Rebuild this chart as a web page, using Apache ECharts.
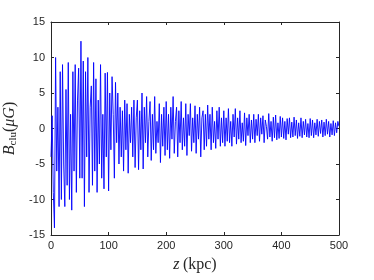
<!DOCTYPE html>
<html><head><meta charset="utf-8">
<script src="https://cdn.jsdelivr.net/npm/echarts@6/dist/echarts.min.js"></script>
<style>html,body{margin:0;padding:0;background:#fff}#c{width:374px;height:280px}</style>
</head><body><div id="c"></div>
<script>
const zStart = 0, zStep = 2;
const xTicks = [0, 100, 200, 300, 400, 500];
const yTicks = [-15, -10, -5, 0, 5, 10, 15];
const bSeg0 = [-4, 1.8, -9, -14, 10, -6, 3, -11, 8, -10, 9, -5, -11, 5.5, -8, 9.3, -10, 2, -11.5, 8, -6, 9, -9, 4, 8.5];
const bSeg1 = [-7, 12.3, -7, 9.5, -11, 8, -4, 10, -9, 3, 6, -8, 9.3, -6, 7, -9, 4, -5, 9, -7, 2, -8.5, 7.8, -4, 7.9];
const bSeg2 = [-8.8, 5, -3, 7.3, 2, -7, 6.5, -2, 5, -5, 3, -4, 2.5, -6, 4, -3, 3.5, -6.3, 2, -2, 3, -4, 4, -5.5, 1.5];
const bSeg3 = [4, -5.8, 2.5, -3, 5, -5.7, 3, -2, 4.5, -4, 1, 3.8, -4.5, 2, -3, 4.5, -3.5, 1, -2, 3.5, -4.8, 2, -2.5, 3, -3.8];
const bSeg4 = [3.8, -3, 2, -4.2, 3, -1.5, 4.5, -3.5, 1, 3, -4, 2.5, -2, 3.8, -3, 1.5, -2.5, 3.5, -3.8, 2, -1, 3.5, -3.2, 1.5, -2];
const bSeg5 = [3.2, -3.5, 2, -1.5, 3, -4, 1.5, 2.5, -3, 2, -2.5, 3.3, -1.5, 2, -3, 3, -2, 1, -2.8, 2.5, -1.5, 3, -2.5, 1.5, -2];
const bSeg6 = [2.5, -2.5, 1.5, -1.8, 2.8, -2, 1, -2.5, 2, -1.2, 2.8, -2.2, 1.5, -1.5, 2.5, -2, 0.8, -1.8, 2.2, -2.4, 1.5, -1, 2, -2, 1.2];
const bSeg7 = [-1.5, 2, -2, 1.3, -1, 2, -1.8, 1.5, -0.8, 1.8, -2, 1.2, 0.3, -1.5, 2.1, -1.2, 1, -1.8, 1.6, -1.3, 1.9, -1.6, 0.8, -1.4, 1.7];
const bSeg8 = [-1.2, 1.5, -1.4, 1, -1.6, 1.4, -0.8, 1.5, -1.3, 0.9, -1.2, 1.6, -1, 1.2, -1.4, 0.8, -1.1, 1.5, -1.3, 1, -0.9, 1.3, -1.2, 0.7, -1.3];
const bSeg9 = [1.4, -1, 1.2, -1.3, 0.8, -0.9, 1.3, -1.1, 1, -0.7, 1.2, -1.2, 0.9, -1, 1.3, -0.8, 1, -1.2, 0.7, -0.9, 1.1, -1, 0.8, -0.6, 1, 0.3];

const bClu = [].concat(bSeg0, bSeg1, bSeg2, bSeg3, bSeg4, bSeg5, bSeg6, bSeg7, bSeg8, bSeg9);
const pts = bClu.map((b, i) => [zStart + i * zStep, b]);

const axCol = '#262626';
const lab = {color: axCol, fontFamily: 'Liberation Sans', fontSize: 11};
const chart = echarts.init(document.getElementById('c'), null, {renderer: 'canvas'});
const baseX = {type: 'value', min: xTicks[0], max: xTicks[xTicks.length-1], interval: 100,
  axisLine: {show: true, onZero: false, lineStyle: {color: axCol, width: 1}},
  axisTick: {show: true, inside: true, length: 3, lineStyle: {color: axCol}},
  splitLine: {show: false}};
const baseY = {type: 'value', min: yTicks[0], max: yTicks[yTicks.length-1], interval: 5,
  axisLine: {show: true, onZero: false, lineStyle: {color: axCol, width: 1}},
  axisTick: {show: true, inside: true, length: 3, lineStyle: {color: axCol}},
  splitLine: {show: false}};
chart.setOption({
  animation: false,
  grid: {left: 51, right: 35, top: 22, bottom: 45, containLabel: false, outerBoundsMode: 'none'},
  xAxis: [
    Object.assign({}, baseX, {position: 'bottom',
      axisLabel: Object.assign({margin: 5}, lab),
      name: '{i|z} {r|(kpc)}', nameLocation: 'middle', nameGap: 22,
      nameTextStyle: {rich: {
        i: {fontFamily: 'Liberation Serif', fontStyle: 'italic', fontSize: 16, color: axCol},
        r: {fontFamily: 'Liberation Serif', fontSize: 16, color: axCol}}}}),
    Object.assign({}, baseX, {position: 'top', axisLabel: {show: false}})
  ],
  yAxis: [
    Object.assign({}, baseY, {position: 'left',
      axisLabel: Object.assign({margin: 6}, lab),
      name: '{i|B}{s|clu}{r|(}{i|μG}{r|)}', nameLocation: 'middle', nameGap: 30, nameRotate: 90,
      nameTextStyle: {rich: {
        i: {fontFamily: 'Liberation Serif', fontStyle: 'italic', fontSize: 16, color: axCol},
        s: {fontFamily: 'Liberation Serif', fontSize: 11, color: axCol, verticalAlign: 'bottom', padding: [6, 0, 0, 0]},
        r: {fontFamily: 'Liberation Serif', fontSize: 16, color: axCol}}}}),
    Object.assign({}, baseY, {position: 'right', axisLabel: {show: false}})
  ],
  series: [{
    type: 'line', data: pts, showSymbol: false, sampling: 'none',
    lineStyle: {color: '#0000ff', width: 0.9}, silent: true
  }]
});
</script></body></html>
